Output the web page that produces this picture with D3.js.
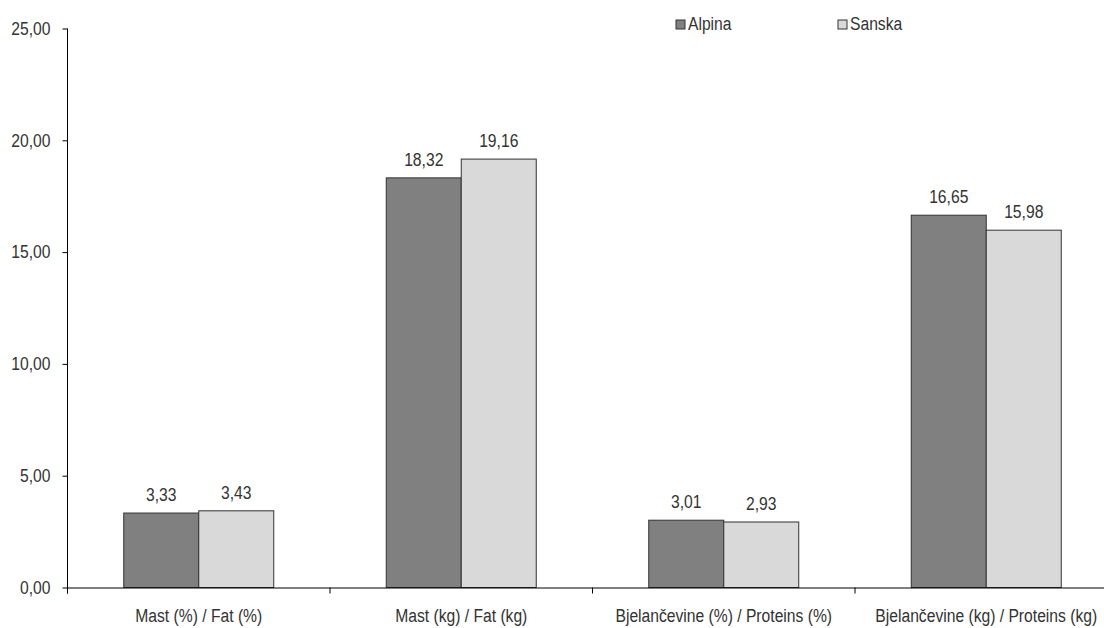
<!DOCTYPE html>
<html><head><meta charset="utf-8">
<script src="https://cdn.jsdelivr.net/npm/d3@7"></script>
<style>
body{margin:0;background:#fff;}
text{font-family:"Liberation Sans",Arial,sans-serif;fill:#333;}
</style></head>
<body><svg id="c" width="1104" height="628"></svg>
<script>
const categories = ["Mast (%) / Fat (%)", "Mast (kg) / Fat (kg)", "Bjelančevine (%) / Proteins (%)", "Bjelančevine (kg) / Proteins (kg)"];
const seriesNames = ["Alpina", "Sanska"];
const alpina = [3.33, 18.32, 3.01, 16.65];
const sanska = [3.43, 19.16, 2.93, 15.98];
const yTicks = [0, 5, 10, 15, 20, 25];
const colors = ["#808080", "#d9d9d9"];

const svg = d3.select("#c");
const fs = 18, sx = 0.87;
const x = d3.scaleBand().domain(categories).range([67.5, 1117.5]).paddingInner(0).paddingOuter(0);
const x1 = d3.scaleBand().domain(seriesNames).range([0, x.bandwidth()]).paddingInner(0).paddingOuter(0.75);
const y = d3.scaleLinear().domain([0, 25]).range([587.5, 28.5]);
const fmt = v => d3.format(".2f")(v).replace(".", ",");

// condense a text element horizontally around its anchor point
function condense(sel) {
  sel.each(function() {
    const t = d3.select(this);
    const tx = +t.attr("x") || 0, ty = +t.attr("y") || 0;
    t.attr("x", 0).attr("y", 0)
     .attr("transform", `translate(${tx},${ty}) scale(${sx},1)`)
     .style("font-size", fs + "px").style("fill", "#333").attr("font-family", null);
  });
}

const data = categories.map((c, i) => ({c, vals: [alpina[i], sanska[i]]}));

// y axis
const ya = svg.append("g").attr("transform", "translate(67.5,0)")
  .call(d3.axisLeft(y).tickValues(yTicks).tickSize(5).tickPadding(12).tickFormat(fmt));
ya.select(".domain").attr("stroke", "#000").attr("d", `M0,${y(25)}V${y(0) + 6}`);
ya.selectAll(".tick line").attr("stroke", "#000");
condense(ya.selectAll("text"));

// bars
const g = svg.append("g");
data.forEach(d => {
  d.vals.forEach((v, j) => {
    const bx = x(d.c) + x1(seriesNames[j]);
    g.append("rect").attr("x", bx).attr("y", y(v)).attr("width", x1.bandwidth()).attr("height", y(0) - y(v))
      .attr("fill", colors[j]).attr("stroke", "#333").attr("stroke-width", 1);
    g.append("text").attr("x", bx + x1.bandwidth() / 2).attr("y", y(v) - 12)
      .attr("text-anchor", "middle").text(fmt(v));
  });
});
condense(g.selectAll("text"));

// x axis
const xa = svg.append("g").attr("transform", `translate(0,${y(0)})`)
  .call(d3.axisBottom(x).tickSize(0).tickPadding(22));
xa.select(".domain").attr("stroke", "#000");
condense(xa.selectAll("text"));
// boundary ticks
const bounds = categories.map(c => x(c)).concat([x.range()[1]]);
xa.selectAll(".btick").data(bounds).enter().append("line")
  .attr("x1", d => d).attr("x2", d => d).attr("y1", 0).attr("y2", 6).attr("stroke", "#000");

// legend
const leg = svg.append("g");
const legX = [676, 838];
seriesNames.forEach((s, j) => {
  leg.append("rect").attr("x", legX[j]).attr("y", 20).attr("width", 9).attr("height", 9)
    .attr("fill", colors[j]).attr("stroke", "#333");
  leg.append("text").attr("x", legX[j] + 12).attr("y", 30).text(s);
});
condense(leg.selectAll("text"));
</script></body></html>
